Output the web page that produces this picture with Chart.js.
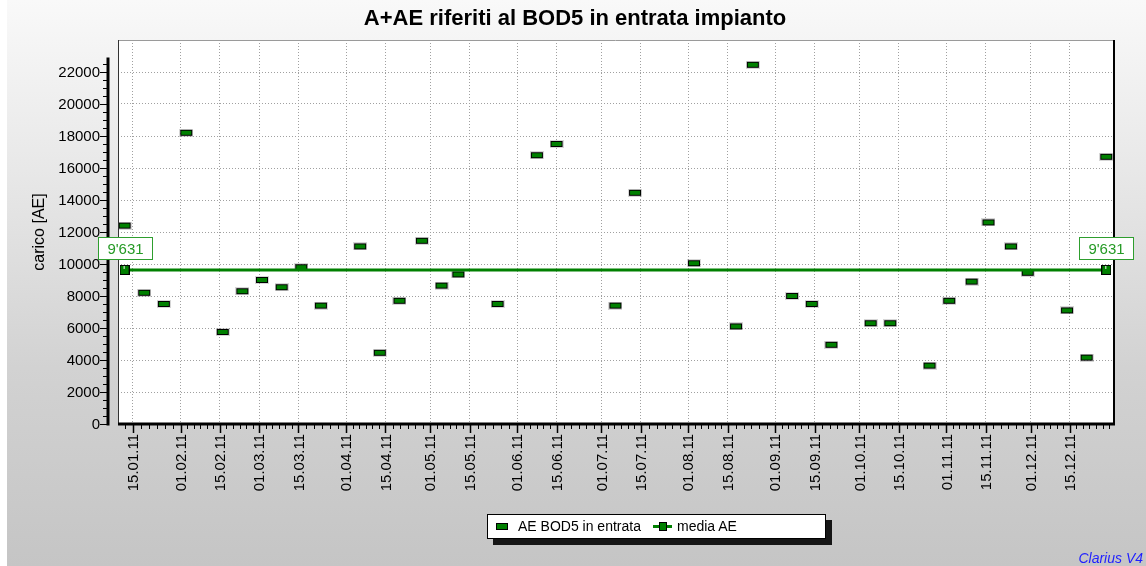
<!DOCTYPE html>
<html><head><meta charset="utf-8">
<script src="https://cdn.jsdelivr.net/npm/chart.js@4.4.0/dist/chart.umd.min.js"></script>
<style>
html,body{margin:0;padding:0;}
body{width:1146px;height:566px;overflow:hidden;}
#wrap{position:relative;width:1146px;height:566px;background:linear-gradient(to bottom,#f9f9f9 0%,#e8e8e8 30%,#d2d2d2 65%,#c5c5c5 100%);}
#strip{position:absolute;left:0;top:0;width:7px;height:566px;background:#fff;}
canvas{position:absolute;left:0;top:0;}
#legend{position:absolute;left:487px;top:514px;width:337px;height:23px;background:#fff;border:1px solid #000;box-shadow:6px 6px 0 #151515;font:14px "Liberation Sans",Arial,sans-serif;color:#000;}
#legend .t{position:absolute;top:3px;white-space:nowrap;}
#legend .r1{position:absolute;left:8px;top:8px;width:10px;height:5px;background:#008000;border:1px solid #000;}
#legend .ln{position:absolute;left:165px;top:10px;width:19px;height:3px;background:#008000;}
#legend .sq{position:absolute;left:171px;top:7px;width:6px;height:7px;background:#008000;border:1px solid #000;}
</style></head>
<body>
<div id="wrap">
<div id="strip"></div>
<canvas id="c" width="1146" height="566"></canvas>
<div id="legend">
 <div class="r1"></div><div class="t" style="left:30px">AE BOD5 in entrata</div>
 <div class="ln"></div><div class="sq"></div><div class="t" style="left:189px">media AE</div>
</div>
</div>
<script>
// ---- data ----
const dates = ["12.01","19.01","26.01","03.02","16.02","23.02","02.03","09.03","16.03","23.03",
 "06.04","13.04","20.04","28.04","05.05","11.05","25.05","08.06","15.06","06.07",
 "13.07","03.08","18.08","24.08","07.09","14.09","21.09","05.10","12.10","26.10",
 "02.11","10.11","16.11","24.11","30.11","14.12","21.12","28.12"];
const values = [12400,8200,7500,18200,5750,8300,9000,8550,9800,7400,
 11100,4450,7700,11450,8650,9350,7500,16800,17500,7400,
 14450,10050,6100,22450,8000,7500,4950,6300,6300,3650,
 7700,8900,12600,11100,9450,7100,4150,16700];
const meanValue = 9631;
const meanDates = ["12.01","28.12"];
const tickLabels = ["15.01.11","01.02.11","15.02.11","01.03.11","15.03.11","01.04.11","15.04.11",
 "01.05.11","15.05.11","01.06.11","15.06.11","01.07.11","15.07.11","01.08.11","15.08.11",
 "01.09.11","15.09.11","01.10.11","15.10.11","01.11.11","15.11.11","01.12.11","15.12.11"];
const yTicks = [0,2000,4000,6000,8000,10000,12000,14000,16000,18000,20000,22000];
const titleText = "A+AE riferiti al BOD5 in entrata impianto";
const yTitle = "carico [AE]";
const seriesName = "AE BOD5 in entrata";
const meanName = "media AE";

// ---- helpers ----
const CUM = [0,31,59,90,120,151,181,212,243,273,304,334];
function dayOf(s){ const d=parseInt(s.slice(0,2),10), m=parseInt(s.slice(3,5),10); return CUM[m-1]+d; }
function fmt(v){ return String(Math.round(v)).replace(/\B(?=(\d{3})+(?!\d))/g,"'"); }
const FONT = '"Liberation Sans", Arial, sans-serif';
const X_MIN = 9.66, X_MAX = 364.4, Y_AXIS_TOP = 22900;
const tickDays = tickLabels.map(dayOf);

// marker images
function rectMarker(){
  const c=document.createElement('canvas'); c.width=14; c.height=8;
  const g=c.getContext('2d');
  g.fillStyle='rgba(120,120,120,0.3)'; g.fillRect(0,0,14,8);
  g.fillStyle='#000'; g.fillRect(1,1,12,6);
  g.fillStyle='#008000'; g.fillRect(2,2,10,4);
  return c;
}
function squareMarker(){
  const c=document.createElement('canvas'); c.width=10; c.height=10;
  const g=c.getContext('2d');
  g.fillStyle='#000'; g.fillRect(0,0,10,10);
  g.fillStyle='#008000'; g.fillRect(1,1,8,8);
  g.fillStyle='#fff'; g.fillRect(4,1,1,3);
  return c;
}

const pts = dates.map((d,i)=>({x:dayOf(d), y:values[i]}));
const meanPts = meanDates.map(d=>({x:dayOf(d), y:meanValue}));

const decor = {
  id:'decor',
  beforeDraw(chart){
    const {ctx, chartArea:a} = chart;
    ctx.save(); ctx.fillStyle='#fff';
    ctx.fillRect(a.left,a.top,a.right-a.left,a.bottom-a.top); ctx.restore();
  },
  afterDraw(chart){
    const {ctx, chartArea:a, scales:{x,y}} = chart;
    ctx.save();
    // plot borders
    ctx.lineWidth=1; ctx.strokeStyle='#9a9a9a';
    ctx.beginPath(); ctx.moveTo(a.left,a.top+0.5); ctx.lineTo(a.right,a.top+0.5); ctx.stroke();
    ctx.strokeStyle='#333';
    ctx.beginPath(); ctx.moveTo(a.left+0.5,a.top); ctx.lineTo(a.left+0.5,a.bottom); ctx.stroke();
    ctx.strokeStyle='#000'; ctx.lineWidth=2;
    ctx.beginPath(); ctx.moveTo(a.right+1,a.top); ctx.lineTo(a.right+1,a.bottom); ctx.stroke();
    // x axis line
    ctx.lineWidth=3;
    ctx.beginPath(); ctx.moveTo(a.left,a.bottom); ctx.lineTo(a.right+2,a.bottom); ctx.stroke();
    // minor x ticks
    ctx.lineWidth=1;
    const minors=[];
    for(let i=0;i<tickDays.length-1;i++){
      const s=(tickDays[i+1]-tickDays[i])/6;
      for(let k=1;k<6;k++) minors.push(tickDays[i]+k*s);
    }
    let s0=(tickDays[1]-tickDays[0])/6;
    for(let v=tickDays[0]-s0; v>X_MIN; v-=s0) minors.push(v);
    let s1=(tickDays[tickDays.length-1]-tickDays[tickDays.length-2])/6;
    for(let v=tickDays[tickDays.length-1]+s1; v<X_MAX; v+=s1) minors.push(v);
    ctx.beginPath();
    minors.forEach(v=>{const px=Math.round(x.getPixelForValue(v))+0.5; ctx.moveTo(px,a.bottom); ctx.lineTo(px,a.bottom+5);});
    ctx.stroke();
    // major x ticks + labels
    ctx.lineWidth=1.5;
    ctx.beginPath();
    tickDays.forEach(v=>{const px=Math.round(x.getPixelForValue(v))+0.5; ctx.moveTo(px,a.bottom); ctx.lineTo(px,a.bottom+9);});
    ctx.stroke();
    ctx.fillStyle='#000'; ctx.font='15px '+FONT; ctx.textAlign='right'; ctx.textBaseline='middle';
    tickDays.forEach((v,i)=>{
      const px=x.getPixelForValue(v);
      ctx.save(); ctx.translate(px+1,a.bottom+10); ctx.rotate(-Math.PI/2);
      ctx.fillText(tickLabels[i],0,0); ctx.restore();
    });
    // y axis (offset)
    const ax=a.left-10;
    ctx.strokeStyle='#000'; ctx.lineWidth=3;
    ctx.beginPath(); ctx.moveTo(ax,y.getPixelForValue(Y_AXIS_TOP)); ctx.lineTo(ax,a.bottom+1.5); ctx.stroke();
    ctx.lineWidth=1;
    ctx.beginPath();
    for(let v=0; v<=Y_AXIS_TOP; v+=500){
      const py=Math.round(y.getPixelForValue(v))+0.5;
      const major = v%2000===0;
      ctx.moveTo(ax-(major?8:5),py); ctx.lineTo(ax,py);
    }
    ctx.stroke();
    ctx.font='15px '+FONT; ctx.textAlign='right'; ctx.textBaseline='middle';
    yTicks.forEach(v=>{ ctx.fillText(String(v), ax-8, y.getPixelForValue(v)+1); });
    // y title
    ctx.save(); ctx.translate(40,232); ctx.rotate(-Math.PI/2);
    ctx.textAlign='center'; ctx.font='16px '+FONT; ctx.fillText(yTitle,0,0); ctx.restore();
    // title
    ctx.font='bold 22px '+FONT; ctx.textAlign='center'; ctx.textBaseline='middle';
    ctx.fillText(titleText,575,19);
    // mean labels
    meanPts.forEach(p=>{
      const px=x.getPixelForValue(p.x), py=y.getPixelForValue(p.y);
      const w=54,h=22, bx=Math.round(px-w/2)+0.5, by=Math.round(py-11-h)+0.5;
      ctx.fillStyle='#fff'; ctx.fillRect(bx,by,w,h);
      ctx.strokeStyle='#2e9e2e'; ctx.lineWidth=1; ctx.strokeRect(bx,by,w,h);
      ctx.fillStyle='#259a25'; ctx.font='15px '+FONT; ctx.textAlign='center'; ctx.textBaseline='middle';
      ctx.fillText(fmt(p.y), bx+w/2, by+h/2+1);
    });
    // signature
    ctx.fillStyle='#1f1fff'; ctx.font='italic 14px '+FONT; ctx.textAlign='right'; ctx.textBaseline='alphabetic';
    ctx.fillText('Clarius V4',1143,563);
    ctx.restore();
  }
};

new Chart(document.getElementById('c'), {
  type:'scatter',
  data:{datasets:[
    {label:meanName, data:meanPts, showLine:true, borderColor:'#008000', borderWidth:3,
     pointStyle:squareMarker(), pointRadius:5, order:0},
    {label:seriesName, data:pts, pointStyle:rectMarker(), pointRadius:6, order:1}
  ]},
  options:{
    responsive:false, animation:false, devicePixelRatio:1,
    layout:{padding:{left:118, right:33, top:40, bottom:142}},
    plugins:{legend:{display:false}, tooltip:{enabled:false}, title:{display:false}},
    scales:{
      x:{type:'linear', min:X_MIN, max:X_MAX,
         afterBuildTicks:s=>{ s.ticks = tickDays.map(v=>({value:v})); },
         ticks:{display:false}, grid:{color:'#a0a0a0', drawTicks:false, lineWidth:1},
         border:{display:false, dash:[1,2]}, afterFit:s=>{ s.height=0; }},
      y:{min:0, max:24000, ticks:{display:false, stepSize:2000},
         grid:{color:'#a0a0a0', drawTicks:false, lineWidth:1},
         border:{display:false, dash:[1,2]}, afterFit:s=>{ s.width=0; }}
    }
  },
  plugins:[decor]
});
</script>
</body></html>
